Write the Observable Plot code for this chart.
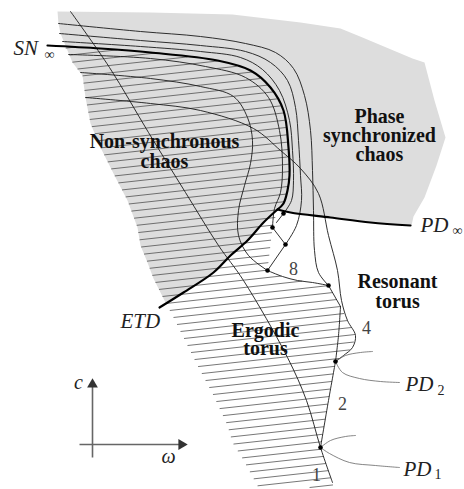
<!DOCTYPE html>
<html><head><meta charset="utf-8">
<script src="https://cdn.jsdelivr.net/npm/d3@7"></script>
<script src="https://cdn.jsdelivr.net/npm/@observablehq/plot@0.6"></script>
<style>
html,body{margin:0;padding:0;background:#fff;}
g[aria-label="math"] text{letter-spacing:2.5px;}
</style></head><body><div id="chart"></div>
<script>
// Schematic (ω, c) plane — points in diagram units
const greyRegion = [[57,11],[150,12],[232,14],[300,22],[340,28],[362,37],[412,58],[424,62],[434,100],[445,137],[436,165],[424,197],[413,216],[411,225],[370,222],[330,217],[290,212],[277,209],[263,222],[247,240],[230,255],[213,272],[183,292],[165,302],[153,278],[147,262],[140,245],[137,227],[127,200],[113,173],[100,147],[90,123],[85,97],[82,75],[72,62],[67,50],[60,33],[58,23]];
const hatchRegion = [[64,46],[100,48],[150,52],[217,60],[250,70],[270,87],[283,110],[288,147],[289,175],[287,190],[283,203],[277,209],[272,227],[267,270],[282,276],[297,280],[312,282],[328,285],[340,306],[347,320],[355,335],[352,347],[343,355],[335,361],[328,400],[320,447],[326,465],[332,482],[333,487],[258,487],[242,458],[232,442],[227,425],[213,395],[197,365],[182,335],[173,317],[163,298],[153,278],[147,262],[140,245],[137,227],[127,200],[113,173],[100,147],[90,123],[85,97],[82,75],[72,62],[67,50]];

const snInf = [[47,45],[100,48],[150,52],[217,60],[250,70],[270,87],[283,110],[288,147],[289,175],[287,190],[283,203],[277,209]];
const etd = [[159,307],[183,292],[213,272],[230,255],[247,240],[263,222],[277,209]];
const pdInf = [[277,209],[290,212],[330,217],[370,222],[410,225]];

const outer1 = [[58,23],[140,31],[200,36],[245,43],[275,52],[293,68],[304,95],[310,130],[312,170],[313,210],[314,250],[318,272],[328,285]];
const outer2 = [[59,33],[140,40],[200,45],[245,51],[270,62],[287,80],[295,107],[298,140],[300,175],[301,200],[296,225],[285,244]];
const outer3 = [[62,41],[140,46],[200,51],[240,57],[262,69],[279,90],[289,120],[292,150],[293,180],[291,200],[283,213]];
const inner1 = [[68,54],[150,58],[205,66],[245,77],[268,97],[279,130],[282,165],[280,192],[274,208],[272,227]];
const inner2 = [[80,72],[150,78],[200,86],[233,96],[247,117],[252,140],[250,163],[244,185],[238,210],[238,235],[248,255],[267,270]];
const inner3 = [[85,97],[150,103],[200,110],[253,128],[280,150],[300,168],[318,193],[328,235],[337,270],[341,300],[347,320],[355,335],[352,347],[343,355],[335,361]];
const diagonal = [[70,11],[109,67],[148,132],[185,192],[218,245],[243,280],[287,357],[306,400],[320,447],[332,482]];
const casc1 = [[283,213],[276,222]];
const casc2 = [[272,227],[285,244]];
const casc3 = [[285,244],[267,270]];
const period8 = [[267,270],[282,276],[297,280],[312,282],[328,285]];
const period4a = [[328,285],[340,306]];
const period4b = [[340,306],[338,335],[335,361]];
const period2 = [[335,361],[328,400],[320,447]];
const pd2Up = [[335,361],[345,355],[360,352],[372,351]];
const pd2Down = [[335,361],[342,372],[359,378],[380,381],[399,382]];
const pd1Up = [[320,447],[330,440],[345,436],[355,435]];
const pd1Down = [[320,447],[329,453],[349,462],[375,465],[399,467]];

const junctionDots = [[283,213],[272,227],[285,244],[267,270],[328,285],[335,361],[320,447]];

const regionLabels = [
  {t:"Non-synchronous\nchaos", x:164, y:167, lh:1.0},
  {t:"Phase\nsynchronized\nchaos", x:379, y:160, lh:0.95},
  {t:"Resonant\ntorus", x:397, y:307, lh:1.0},
  {t:"Ergodic\ntorus", x:265, y:354, lh:0.86}
];
const periodLabels = [{t:"8",x:293,y:274},{t:"4",x:366,y:333},{t:"2",x:342,y:409},{t:"1",x:316,y:480}];
const mathLabels = [{t:"SN",x:13,y:54},{t:"PD",x:420,y:231},{t:"ETD",x:120,y:327},{t:"PD",x:405,y:390},{t:"PD",x:403,y:475}];
const mathSubs = [{t:"∞",x:44,y:58},{t:"∞",x:452,y:234},{t:"2",x:437,y:394},{t:"1",x:434,y:478}];
const axisLabels = [{t:"c",x:78,y:388},{t:"ω",x:168,y:462}];
const axisArrows = [{x1:92,y1:457,x2:92,y2:384,rot:0},{x1:79,y1:444,x2:181,y2:444,rot:90}];

// hatch segments: clip evenly spaced, slightly tilted lines to hatchRegion
function hatch(poly, spacing, slope, yStart, yEnd){
  const segs=[];
  for(let b=yStart;b<=yEnd;b+=spacing){
    const xs=[];
    for(let i=0;i<poly.length;i++){
      const [ax,ay]=poly[i],[bx,by]=poly[(i+1)%poly.length];
      const fa=ay-(b+slope*ax), fb=by-(b+slope*bx);
      if((fa<0)!==(fb<0)){const t=fa/(fa-fb); xs.push(ax+t*(bx-ax));}
    }
    xs.sort((p,q)=>p-q);
    for(let k=0;k+1<xs.length;k+=2) segs.push({x1:xs[k],y1:b+slope*xs[k],x2:xs[k+1],y2:b+slope*xs[k+1]});
  }
  return segs;
}
const hatchSegs = hatch(hatchRegion, 7.4, -0.11, 40, 560);

const thin = [outer1,outer2,outer3,inner1,inner2,inner3,diagonal,casc1,casc2,casc3,period8,period4a,period4b,period2]
  .flatMap((c,i)=>c.map(p=>({x:p[0],y:p[1],id:i})));
const pdThin = [pd2Up,pd2Down,pd1Up,pd1Down].flatMap((c,i)=>c.map(p=>({x:p[0],y:p[1],id:i})));
const thick = [snInf,etd,pdInf].flatMap((c,i)=>c.map(p=>({x:p[0],y:p[1],id:i})));

const serif = "Liberation Serif";
const regionMarks = regionLabels.map(r => Plot.text([r],{x:"x",y:"y",text:"t",textAnchor:"middle",lineAnchor:"bottom",lineHeight:r.lh,fontFamily:serif,fontWeight:"bold",fontSize:20,fill:"#111"}));
const chart = Plot.plot({
  width:464, height:489, margin:0,
  style:{background:"#fff"},
  x:{domain:[0,464], range:[0,464], axis:null},
  y:{domain:[0,489], range:[0,489], axis:null},
  marks:[
    Plot.line(greyRegion,{x:d=>d[0],y:d=>d[1],fill:"#dddddd",stroke:"none"}),
    Plot.link(hatchSegs,{x1:"x1",y1:"y1",x2:"x2",y2:"y2",stroke:"#4a4a4a",strokeWidth:0.75}),
    Plot.line(thin,{x:"x",y:"y",z:"id",curve:"catmull-rom",stroke:"#1a1a1a",strokeWidth:0.9}),
    Plot.line(pdThin,{x:"x",y:"y",z:"id",curve:"catmull-rom",stroke:"#666",strokeWidth:0.8}),
    Plot.line(thick,{x:"x",y:"y",z:"id",curve:"catmull-rom",stroke:"#000",strokeWidth:2.2}),
    Plot.dot(junctionDots,{x:d=>d[0],y:d=>d[1],r:2.3,fill:"#000",stroke:"none"}),
    Plot.link(axisArrows,{x1:"x1",y1:"y1",x2:"x2",y2:"y2",stroke:"#666",strokeWidth:1.6}),
    Plot.dot(axisArrows,{x:"x2",y:"y2",symbol:"triangle",r:4,rotate:"rot",fill:"#333",stroke:"none"}),
    ...regionMarks,
    Plot.text(periodLabels,{x:"x",y:"y",text:"t",textAnchor:"middle",lineAnchor:"bottom",fontFamily:serif,fontSize:18,fill:"#444"}),
    Plot.text(mathLabels,{x:"x",y:"y",text:"t",textAnchor:"start",lineAnchor:"bottom",fontFamily:serif,fontStyle:"italic",fontSize:21,fill:"#222",ariaLabel:"math"}),
    Plot.text(mathSubs,{x:"x",y:"y",text:"t",textAnchor:"start",lineAnchor:"bottom",fontFamily:serif,fontSize:14,fill:"#222"}),
    Plot.text(axisLabels,{x:"x",y:"y",text:"t",textAnchor:"middle",lineAnchor:"bottom",fontFamily:serif,fontStyle:"italic",fontSize:20,fill:"#222"})
  ]
});
document.getElementById("chart").appendChild(chart);
</script></body></html>
